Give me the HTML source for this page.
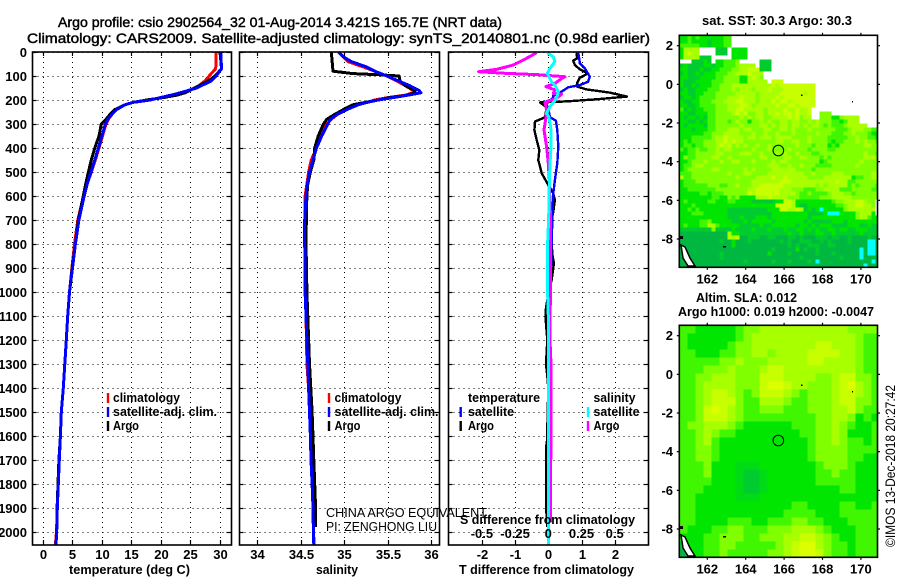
<!DOCTYPE html>
<html>
<head>
<meta charset="utf-8">
<title>Argo profile csio 2902564_32</title>
<style>
html,body{margin:0;padding:0;background:#fff;}
svg{display:block;}
text{font-family:"Liberation Sans",sans-serif;fill:#000;}
.b{font-weight:bold;font-size:13px;}
.t{font-size:14px;stroke:#000;stroke-width:.45px;}
.n{font-size:13px;font-weight:normal;}
.r{font-size:14px;font-weight:normal;}
</style>
</head>
<body>
<svg id="fig" xmlns="http://www.w3.org/2000/svg" width="900" height="580" viewBox="0 0 900 580">
<rect x="0" y="0" width="900" height="580" fill="#fff"/>
<g id="plots"></g>
<text class="t" x="58" y="27" textLength="444" lengthAdjust="spacingAndGlyphs">Argo profile: csio 2902564_32 01-Aug-2014 3.421S 165.7E (NRT data)</text>
<text class="t" x="27" y="43" textLength="623" lengthAdjust="spacingAndGlyphs">Climatology: CARS2009. Satellite-adjusted climatology: synTS_20140801.nc (0.98d earlier)</text>
<text class="b" x="69" y="574" textLength="121" lengthAdjust="spacingAndGlyphs">temperature (deg C)</text>
<text class="b" x="316" y="574" textLength="42" lengthAdjust="spacingAndGlyphs">salinity</text>
<text class="b" x="459" y="574" textLength="175" lengthAdjust="spacingAndGlyphs">T difference from climatology</text>
<text class="b" x="460" y="524" textLength="175" lengthAdjust="spacingAndGlyphs">S difference from climatology</text>
<text class="n" x="326" y="517" textLength="161" lengthAdjust="spacingAndGlyphs">CHINA ARGO EQUIVALENT</text>
<text class="n" x="326" y="531" textLength="111" lengthAdjust="spacingAndGlyphs">PI: ZENGHONG LIU</text>
<text class="b" x="702" y="25" textLength="150" lengthAdjust="spacingAndGlyphs">sat. SST: 30.3 Argo: 30.3</text>
<text class="b" x="696" y="302" textLength="101" lengthAdjust="spacingAndGlyphs">Altim. SLA: 0.012</text>
<text class="b" x="678" y="316" textLength="196" lengthAdjust="spacingAndGlyphs">Argo h1000: 0.019 h2000: -0.0047</text>
<text class="r" transform="translate(895,547) rotate(-90)" textLength="162" lengthAdjust="spacingAndGlyphs">©IMOS 13-Dec-2018 20:27:42</text>
</svg>
<script>
/* ---------- axis tick labels ---------- */
const depthTicks = [0,100,200,300,400,500,600,700,800,900,1000,1100,1200,1300,1400,1500,1600,1700,1800,1900,2000];
const tempTicks = [0,5,10,15,20,25,30];
const salTicks = [34,34.5,35,35.5,36];
const tDiffTicks = [-2,-1,0,1,2];
const sDiffTickLabels = [-0.5,-0.25,0,0.25,0.5];
const lonTicks = [162,164,166,168,170];
const latTicks = [2,0,-2,-4,-6,-8];

/* ---------- temperature panel ---------- */
const tempDepths = [0,40,70,100,120,150,170,180,190,200,210,220,240,260,280,300,350,400,450,500,550,600,700,800,900,1000,1100,1200,1300,1400,1500,1600,1700,1800,1900,2000,2054];
const tempClim = [29.4,29.4,29.3,28.2,27.5,26,23.4,21.8,20,18,15.3,13.9,12.5,11.7,11.1,10.7,10.1,9.5,8.9,8.2,7.5,6.9,5.9,5.35,4.9,4.5,4.2,3.95,3.7,3.45,3.1,2.95,2.77,2.6,2.43,2.3,2.1];
const tempArgo = [30.05,30.2,30.3,29.2,28.1,25.7,24.1,22.7,20.4,17.6,15.3,13.9,12.2,11.4,10.7,9.9,9.5,8.8,8.2,7.7,7.25,6.85,6,5.5,4.95,4.5,4.2,3.95,3.7,3.45,3.1,2.95,2.7,2.55,2.4,2.32];
const tempSat = [30.2,30.25,30.3,29.4,28.6,26.1,23.3,21.7,19.9,18.2,15.3,13.9,12.5,11.7,11,10.6,10,9.4,8.8,8.15,7.5,7,6.1,5.5,5,4.5,4.2,3.95,3.7,3.45,3.1,2.95,2.77,2.6,2.43,2.32,2.2];

/* ---------- salinity panel ---------- */
const salDepths = [0,20,40,60,80,100,120,140,160,170,180,190,200,210,220,240,260,280,300,350,400,450,500,550,600,700,800,900,1000,1100,1200,1300,1400,1500,1600,1700,1800,1900,2000,2054];
const salClim = [34.93,34.99,35.04,35.2,35.35,35.49,35.6,35.7,35.79,35.79,35.7,35.5,35.35,35.26,35.14,35.02,34.92,34.85,34.8,34.72,34.68,34.62,34.59,34.57,34.55,34.55,34.55,34.55,34.555,34.56,34.565,34.57,34.59,34.6,34.61,34.617,34.63,34.64,34.645,34.655];
const salSat = [34.93,34.99,35.08,35.24,35.35,35.49,35.62,35.75,35.86,35.88,35.73,35.56,35.39,35.26,35.16,35.03,34.92,34.84,34.81,34.74,34.68,34.64,34.6,34.575,34.56,34.545,34.545,34.55,34.55,34.56,34.57,34.58,34.59,34.6,34.61,34.617,34.63,34.64,34.645,34.65];
const salArgoDepths = [0,80,90,95,100,120,140,160,170,180,190,200,210,220,240,260,280,300,350,400,450,500,550,600,650,800,900,1000,1300,1500,1700,1900,1980];
const salArgo = [34.85,34.87,35.1,35.41,35.63,35.64,35.7,35.81,35.81,35.72,35.52,35.39,35.24,35.1,34.99,34.89,34.8,34.76,34.7,34.66,34.65,34.61,34.58,34.57,34.565,34.56,34.565,34.57,34.6,34.63,34.65,34.67,34.67];

/* ---------- difference panel ---------- */
const dtArgoDepths = [3,26,36,54,72,89,107,128,144,156,169,186,197,206,210,231,272,290,325,367,408,450,505,554,589,617,665,700,800,850,880,900,950,1000,1050,1080,1110,1200,1300,1350,1400,1620,1650,1900,1950,1980];
const dtArgo = [.85,.87,.75,.8,.95,1.2,.95,.87,.87,1.15,1.85,2.37,1.45,.55,-.25,-.05,-.1,-.4,-.42,-.35,-.27,-.3,-.2,0,.15,.2,.15,.1,.1,.13,.17,.15,.1,.02,-.05,-.08,-.08,-.03,-.07,-.03,0,-.04,-.07,-.07,-.04,-.04];
const dtSatDepths = [3,26,47,68,103,124,138,147,165,182,196,208,235,272,286,325,394,464,533,589,658,700,800,900,1000,1100,1200,1300,1400,1500,2000,2054];
const dtSat = [.9,.93,.95,1.1,1.25,1.2,.95,.6,.4,.15,.13,-.1,0,.05,.23,.27,.3,.27,.2,.15,.13,.12,.1,.08,.06,.05,.04,.03,.02,.02,0,0];
const dsArgoDepths = [3,26,54,72,82,89,94,103,117,131,144,158,172,176,193,210,242,272,325,394,464,533,631,700,1000,1100,1200,1300,1960];
const dsArgo = [-.0875,-.1625,-.2625,-.3875,-.525,-.3125,-.0875,.125,.0825,.05,-.0175,.05,.0375,.1,.0625,-.025,-.0125,-.0175,-.0325,-.0125,0,.0075,.0125,.0175,.0175,.0125,.0125,.02,.0175];
const dsSatDepths = [3,20,40,68,89,124,138,165,193,228,256,272,325,394,464,548,631,700,800,1000,1100,1400,2054];
const dsSat = [-.0075,.0375,.05,.0125,-.0075,.025,.05,.075,.0625,.0125,-.0125,.005,.02,.02,.0125,.0075,.005,.0025,-.005,-.005,0,0,0];

/* ---------- SST map levels ('.' = no data, c = cold outlier, 1-7 = green to yellow) ---------- */
const sstRows = [
"3343433333 344",
"3343333233 344",
"4444433233 344",
"36666....2 22.3333",
"36766....2 22.3333",
"36666222.. ...3333",
"...22232.3 34445.... .222",
"2322223323 344456666 .222",
"3322232233 444556677 7222",
"2322323334 445566676 66",
"3322233334 455553367 65",
"3222333344 455553366 666.777",
"3223233344 5556666666 6667677777 7777",
"2322333444 5556566656 6676667777 7777",
"3322334445 5555666665 6666677777 7677",
"2332344445 5566676665 6666767777 7777",
"3223344455 5666776665 6667677677 7777",
"3322344445 5566677656 6666766776 7777",
"4232334445 5566776666 6566667667 667",
"3322333445 5556767556 6566767767 667..555",
"3233232445 5555565656 6556666767 566..55533 56666",
"3322323445 5545655355 6565566566 5565655544 34666",
"3233332445 5555565555 6656566566 5656654544 4566666",
"3332333445 5566656655 5665566565 5565555554 4456665544",
"3333334455 5666655565 5655655565 5555655544 4556555432",
"3334444456 6766665665 6665666655 5565555444 4455655443",
"3434445556 6767665555 5555665566 5565555434 4555656554",
"3443445556 7675656556 5565555556 5554555343 5555556655",
"4344544556 5665555565 5565555655 5545555445 5555555555",
"3344555556 6555566655 6555656556 5554455555 5555556554",
"3544555566 5565555555 6655556655 6655545455 5555556665",
"3345556555 6556655565 5556566555 5555534555 5555565555",
"3445665555 5555555555 5566655655 6555444455 5555655555",
"3455555566 5555556565 5556666665 5554555555 5555555555",
"4445555555 5565556655 5566666666 6556555566 6555555566",
"6445555555 5555655556 6667667666 6655556666 6663445566",
"3444555555 5555555566 6666677766 6666666667 6644555555",
"3444444555 4455655566 7777776666 6666565666 6645455554",
"3344444445 5555555667 7777766655 5444556666 4445555544",
"3333344344 4555555767 7777766665 4454444566 6554555555",
"3333333344 3354533336 6676666555 4444455566 6665555555",
"3433333443 3344333322 2222337763 3333333345 566677655.",
"3334333333 3333333333 3333777763 2233333334 456677665.",
"3343433333 3322222222 2233377667 62323c3333 356666666.",
"3334443333 3322222222 2223333333 3322223ccc 333356663.",
"3333333333 3322232223 3323333333 3323333333 3333566433",
"3333344533 3332223233 3332333333 3232222233 3233333333",
"3433344664 3333322222 3223333332 3323233322 2233322322",
"2222222252 2223222232 2232223223 3232322332 3322333222",
"1111111111 1163322222 2222222322 3222332232 2222232222",
"1111111111 1166711222 1122111221 2111222122 1121111211",
"1111111111 2113111211 1111121211 2221121211 1121111cc1",
"1111111111 1113111111 1111111212 1122211221 1111111cc1",
"1111111111 1111111111 1112111113 1211211111 11111c1cc1",
"1111111111 2111111111 1131111211 1111211121 11111c1cc1",
"1111111111 2111111111 1111111111 2111111111 21111c1111",
"1111111111 1111112111 1112111211 1121c11111 11111111c1",
"1111111111 1111111111 1111111111 1111111111 111111c111"
];

/* ---------- sea-level-anomaly map levels ---------- */
const slaRows = [
"4433333455666666666665555",
"4333333456666666666666544",
"4333334556666666677666544",
"4433344556656666777766544",
"4444455655566666776666544",
"4445556555677666666666544",
"4455666555777666655677554",
"4456666555788766555678654",
"4456776545777654555677654",
"4456777544666544555677554",
"4457876544555444555667544",
"4457776544444444455665343",
"4556665433333344455654334",
"4456544333333334455653334",
"4456433333333333455654434",
"4455433333333333455554444",
"4455433333333333455554433",
"4445333ddd333333345554333",
"4445333d22d33333344544333",
"4444333d22d33333344444333",
"4443333d22d33333333344333",
"4433333ddd333333333333333",
"4433333333333344333344334",
"4433333333333444433344444",
"4433334443344455443334444",
"4333445544455566654333444",
"3334455544555667765433444",
"2334455444445678865443444",
"1334454444455678875443444"
];

const SVGNS = 'http://www.w3.org/2000/svg';
const root = document.getElementById('plots');

function make(tag, attrs, parent, txt) {
  const el = document.createElementNS(SVGNS, tag);
  for (const k in attrs) el.setAttribute(k, attrs[k]);
  if (txt !== undefined) el.textContent = txt;
  (parent || root).appendChild(el);
  return el;
}

const depthY = d => 52 + 0.24 * d;
const tempX = v => 43 + 5.89 * v;
const salX = v => 257.3 + 87 * (v - 34);
const tDiffX = v => 548.3 + 33.2 * v;
const sDiffX = v => 548.3 + 132.8 * v;
const PLOT_TOP = 52, PLOT_BOTTOM = 545;
const levelColors = {'1':'#00b840','2':'#00cc30','d':'#00dc14','3':'#00e600','4':'#40f600','5':'#80ff00','6':'#a8ff00','7':'#c8ff00','8':'#dcff00','c':'#00ffff'};

function frame(name, l, r, t, b) {
  const el = make('rect', {x:l, y:t, width:r-l, height:b-t, fill:'none', stroke:'#000', 'stroke-width':1.6}, root);
  
  
}

function profilePanel(name, l, r, xTicks, xFn, showDepth) {
  const g = make('g', {}, root);
  
  
  depthTicks.forEach(d => {
    const y = Math.round(depthY(d)) + .5;
    make('line', {x1:l, x2:r, y1:y, y2:y, stroke:'#000', 'stroke-width':1, 'stroke-dasharray':'1 4', 'shape-rendering':'crispEdges'}, g);
    make('line', {x1:l, x2:l+4, y1:y, y2:y, stroke:'#000', 'stroke-width':1.2}, g);
    make('line', {x1:r-5, x2:r, y1:y, y2:y, stroke:'#000', 'stroke-width':1.2}, g);
    if (showDepth) {
      const lab = make('text', {class:'b', x:27, y:y+4.5, 'text-anchor':'end'}, g, String(d));
      
      
    }
  });
  xTicks.forEach(v => {
    const x = Math.round(xFn(v)) + .5;
    make('line', {x1:x, x2:x, y1:PLOT_TOP, y2:PLOT_BOTTOM, stroke:'#000', 'stroke-width':1, 'stroke-dasharray':'1 4', 'shape-rendering':'crispEdges'}, g);
    make('line', {x1:x, x2:x, y1:PLOT_BOTTOM-5, y2:PLOT_BOTTOM, stroke:'#000', 'stroke-width':1.2}, g);
    make('line', {x1:x, x2:x, y1:PLOT_TOP, y2:PLOT_TOP+4, stroke:'#000', 'stroke-width':1.2}, g);
    const lab = make('text', {class:'b', x:x, y:559, 'text-anchor':'middle'}, g, String(v));
    
    
  });
}

function curve(name, depths, values, xFn, color, width) {
  const pts = values.map((v, i) => xFn(v).toFixed(1) + ',' + depthY(depths[i]).toFixed(1)).join(' ');
  const el = make('polyline', {points:pts, fill:'none', stroke:color, 'stroke-width':width, 'stroke-linejoin':'round', 'shape-rendering':'crispEdges'}, root);
  
  
}

function legend(name, barX, textX, y, color, label, len) {
  const bar = make('line', {x1:barX, x2:barX, y1:y-9, y2:y+1, stroke:color, 'stroke-width':2.4}, root);
  
  
  const t = make('text', {class:'b', x:textX, y:y, textLength:len, lengthAdjust:'spacingAndGlyphs'}, root, label);
  
  
}

/* profile panels */
profilePanel('temperature-panel', 32.5, 231.5, tempTicks, tempX, true);
profilePanel('salinity-panel', 239.5, 439.5, salTicks, salX, false);
profilePanel('difference-panel', 448.5, 648.5, tDiffTicks, tDiffX, false);

curve('temperature-climatology-line', tempDepths, tempClim, tempX, '#ff0000', 3);
curve('temperature-argo-line', tempDepths, tempArgo, tempX, '#000000', 3);
curve('temperature-satellite-line', tempDepths, tempSat, tempX, '#0000ff', 3);
curve('salinity-climatology-line', salDepths, salClim, salX, '#ff0000', 3);
curve('salinity-argo-line', salArgoDepths, salArgo, salX, '#000000', 3);
curve('salinity-satellite-line', salDepths, salSat, salX, '#0000ff', 3);
curve('t-diff-argo-line', dtArgoDepths, dtArgo, tDiffX, '#000000', 2.4);
curve('t-diff-satellite-line', dtSatDepths, dtSat, tDiffX, '#0000ff', 2.4);
curve('s-diff-argo-line', dsArgoDepths, dsArgo, sDiffX, '#ff00ff', 3);
curve('s-diff-satellite-line', dsSatDepths, dsSat, sDiffX, '#00ffff', 3);

frame('temperature-panel-frame', 32.5, 231.5, PLOT_TOP, PLOT_BOTTOM);
frame('salinity-panel-frame', 239.5, 439.5, PLOT_TOP, PLOT_BOTTOM);
frame('difference-panel-frame', 448.5, 648.5, PLOT_TOP, PLOT_BOTTOM);

sDiffTickLabels.forEach(v => {
  const t = make('text', {class:'b', x:sDiffX(v), y:538, 'text-anchor':'middle'}, root, String(v));
  
  
});

/* legends */
legend('temp-legend-climatology', 108, 113, 402, '#ff0000', 'climatology', 67);
legend('temp-legend-satellite', 108, 113, 416, '#0000ff', 'satellite-adj. clim.', 104);
legend('temp-legend-argo', 108, 113, 430, '#000000', 'Argo', 26);
legend('sal-legend-climatology', 329, 334.5, 402, '#ff0000', 'climatology', 67);
legend('sal-legend-satellite', 329, 334.5, 416, '#0000ff', 'satellite-adj. clim.', 104);
legend('sal-legend-argo', 329, 334.5, 430, '#000000', 'Argo', 26);
legend('diff-legend-t-satellite', 460.7, 468, 416, '#0000ff', 'satellite', 46);
legend('diff-legend-t-argo', 460.7, 468, 430, '#000000', 'Argo', 26);
legend('diff-legend-s-satellite', 588, 593.5, 416, '#00ffff', 'satellite', 46);
legend('diff-legend-s-argo', 588, 593.5, 430, '#ff00ff', 'Argo', 26);
const hdrT = make('text', {class:'b', x:468, y:402, textLength:72, lengthAdjust:'spacingAndGlyphs'}, root, 'temperature');


const hdrS = make('text', {class:'b', x:593.5, y:402, textLength:42, lengthAdjust:'spacingAndGlyphs'}, root, 'salinity');



/* maps */
function mapPanel(name, rows, cellW, cellH, left, top) {
  const lonX = lon => 707.3 + 19.2 * (lon - 162);
  const latY = lat => top + 10.4 + 19.33 * (2 - lat);
  const right = 877.5, bottom = top + 232;
  const lonAt = c => 160.55 + c * cellW / 19.2;
  const latAt = r => 2.538 - r * cellH / 19.33;
  const g = make('g', {}, root);
  
  
  rows.forEach((rowText, r) => {
    const row = rowText.replace(/ /g, '');
    for (let c = 0; c < row.length; c++) {
      const color = levelColors[row[c]];
      if (!color) continue;
      const x0 = lonX(lonAt(c));
      const y0 = latY(latAt(r));
      const w = Math.min(cellW, right - x0);
      const cell = make('rect', {x:x0, y:y0, width:w, height:cellH, fill:color, 'shape-rendering':'crispEdges'}, g);
      
      
    }
  });
  /* coast and small islands */
  const off = top - 35.3;
  const coast = make('polygon', {points:[[681,245],[683,258],[688,266],[695,266],[690,258],[685,247]].map(p => p[0] + ',' + (p[1]+off)).join(' '), fill:'#fff', stroke:'#000', 'stroke-width':1.5}, root);
  
  
  [[680,236,3,3],[723,246,3,1.5],[801,94.5,1.5,1.5],[852,101,1,1.5]].forEach(m => {
    const isl = make('rect', {x:m[0], y:m[1]+off, width:m[2], height:m[3], fill:'#000'}, root);
    
    
  });
  /* ticks and labels */
  lonTicks.forEach(v => {
    const x = lonX(v);
    make('line', {x1:x, x2:x, y1:bottom, y2:bottom+2.5, stroke:'#000', 'stroke-width':1.2}, root);
    make('line', {x1:x, x2:x, y1:top-2.5, y2:top, stroke:'#000', 'stroke-width':1.2}, root);
    const t = make('text', {class:'b', x:x, y:bottom+16, 'text-anchor':'middle'}, root, String(v));
    
    
  });
  latTicks.forEach(v => {
    const y = latY(v);
    make('line', {x1:left-2.5, x2:left, y1:y, y2:y, stroke:'#000', 'stroke-width':1.2}, root);
    make('line', {x1:right, x2:right+2.5, y1:y, y2:y, stroke:'#000', 'stroke-width':1.2}, root);
    const t = make('text', {class:'b', x:673, y:y+4.5, 'text-anchor':'end'}, root, String(v));
    
    
  });
  frame(name + '-frame', left, right, top, bottom);
  const marker = make('circle', {cx:lonX(165.7), cy:latY(-3.421), r:5.3, fill:'none', stroke:'#000', 'stroke-width':1}, root);
  
  
}

mapPanel('sst-map', sstRows, 4, 4, 679.3, 35.3);
mapPanel('sla-map', slaRows, 8, 8, 679.3, 325.3);
</script>
</body>
</html>
